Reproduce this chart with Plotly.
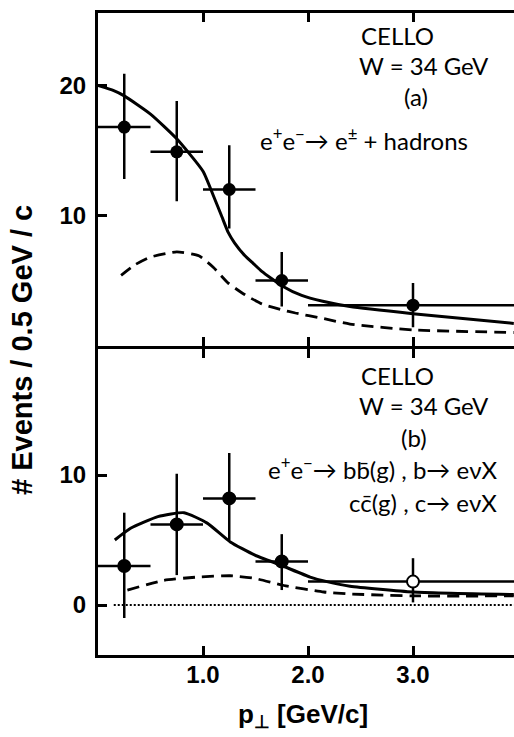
import plotly.graph_objects as go

# ---- data ----
bin_centers = [0.25, 0.75, 1.25, 1.75, 3.0]
bin_lo = [0.0, 0.5, 1.0, 1.5, 2.0]
bin_hi = [0.5, 1.0, 1.5, 2.0, 4.0]

top_y = [16.8, 14.9, 12.0, 5.0, 3.1]
top_err_up = [4.1, 3.9, 3.4, 2.2, 1.7]
top_err_dn = [4.0, 3.8, 3.0, 2.0, 1.7]

bot_y = [3.0, 6.2, 8.2, 3.35, 1.8]
bot_err_up = [4.1, 3.9, 3.5, 2.1, 1.8]
bot_err_dn = [4.0, 3.9, 3.2, 2.2, 1.6]
bot_filled = [True, True, True, True, False]

top_solid_x = [0.0, 0.15, 0.25, 0.5, 0.75, 1.0, 1.1, 1.18, 1.24, 1.3, 1.4, 1.48, 1.56, 1.75, 1.94, 2.14, 2.4, 3.0, 3.5, 3.96]
top_solid_y = [20.0, 19.6, 19.2, 17.8, 15.9, 13.4, 11.5, 9.9, 8.7, 7.9, 6.9, 6.3, 5.7, 4.6, 3.85, 3.4, 3.0, 2.45, 2.05, 1.7]

top_dash_x = [0.22, 0.35, 0.5, 0.75, 0.96, 1.1, 1.24, 1.4, 1.56, 1.75, 1.88, 2.13, 2.4, 3.0, 3.96]
top_dash_y = [5.4, 6.2, 6.8, 7.2, 6.9, 6.0, 4.8, 3.9, 3.2, 2.75, 2.5, 2.1, 1.65, 1.2, 1.0]

bot_solid_x = [0.16, 0.31, 0.57, 0.82, 1.04, 1.26, 1.49, 1.76, 2.02, 2.18, 2.4, 3.0, 3.96]
bot_solid_y = [5.0, 5.9, 6.8, 7.1, 6.3, 4.85, 3.85, 3.0, 2.15, 1.8, 1.45, 1.0, 0.8]

bot_dash_x = [0.28, 0.63, 0.95, 1.26, 1.49, 1.77, 2.15, 2.4, 3.0, 3.96]
bot_dash_y = [1.15, 1.9, 2.15, 2.25, 2.05, 1.5, 1.0, 0.85, 0.7, 0.7]

zero_x = [0.15, 3.96]
zero_y = [0.0, 0.0]

x_ticks = [1.0, 2.0, 3.0]
x_ticklabels = ["1.0", "2.0", "3.0"]
top_yticks = [10, 20]
bot_yticks = [0, 10]

# ---- figure ----
fig = go.Figure()

err_x_plus = [h - c for h, c in zip(bin_hi, bin_centers)]
err_x_minus = [c - l for l, c in zip(bin_lo, bin_centers)]

fig.add_trace(go.Scatter(x=top_solid_x, y=top_solid_y, mode="lines",
                         line=dict(color="black", width=3, shape="spline", smoothing=0.5),
                         xaxis="x", yaxis="y"))
fig.add_trace(go.Scatter(x=top_dash_x, y=top_dash_y, mode="lines",
                         line=dict(color="black", width=2.8, dash="12px,7px", shape="spline", smoothing=0.5),
                         xaxis="x", yaxis="y"))
fig.add_trace(go.Scatter(
    x=bin_centers, y=top_y, mode="markers",
    marker=dict(color="black", size=13, line=dict(color="black", width=0)),
    error_x=dict(type="data", symmetric=False, array=err_x_plus, arrayminus=err_x_minus,
                 color="black", thickness=2.5, width=0),
    error_y=dict(type="data", symmetric=False, array=top_err_up, arrayminus=top_err_dn,
                 color="black", thickness=2.5, width=0),
    xaxis="x", yaxis="y"))

fig.add_trace(go.Scatter(x=zero_x, y=zero_y, mode="lines",
                         line=dict(color="black", width=2, dash="2px,2px"), xaxis="x2", yaxis="y2"))
fig.add_trace(go.Scatter(x=bot_solid_x, y=bot_solid_y, mode="lines",
                         line=dict(color="black", width=3, shape="spline", smoothing=0.5),
                         xaxis="x2", yaxis="y2"))
fig.add_trace(go.Scatter(x=bot_dash_x, y=bot_dash_y, mode="lines",
                         line=dict(color="black", width=2.8, dash="12px,7px", shape="spline", smoothing=0.5),
                         xaxis="x2", yaxis="y2"))
fig.add_trace(go.Scatter(
    x=bin_centers, y=bot_y, mode="markers",
    marker=dict(color=["black" if f else "white" for f in bot_filled], size=12,
                line=dict(color="black", width=2)),
    error_x=dict(type="data", symmetric=False, array=err_x_plus, arrayminus=err_x_minus,
                 color="black", thickness=2.5, width=0),
    error_y=dict(type="data", symmetric=False, array=bot_err_up, arrayminus=bot_err_dn,
                 color="black", thickness=2.5, width=0),
    xaxis="x2", yaxis="y2"))

tickfont = dict(family="Liberation Sans", size=24, color="black", weight="bold")
PX_PER_X = 105.0
xr = [0.0, 416 / PX_PER_X]
common_x = dict(range=xr, showgrid=False, zeroline=False, showline=True, linecolor="black",
                linewidth=3, mirror="ticks", ticks="inside", ticklen=9, tickwidth=2.5,
                tickcolor="black", tickvals=x_ticks, ticktext=x_ticklabels, tickfont=tickfont)
common_y = dict(showgrid=False, zeroline=False, showline=True, linecolor="black", linewidth=3,
                mirror=False, ticks="inside", ticklen=9, tickwidth=2.5, tickcolor="black",
                tickfont=tickfont, ticklabelstandoff=4)

# plot area: top 13 px, bottom 655 px
T, B = 13.0, 655.0
H = B - T
top_dom_lo = (B - 345.5) / H
bot_dom_hi = (B - 348.5) / H
fig.update_layout(
    width=514, height=737,
    margin=dict(l=98, r=0, t=int(T), b=int(737 - B)),
    paper_bgcolor="white", plot_bgcolor="white",
    showlegend=False,
    xaxis=dict(common_x, anchor="y", showticklabels=False),
    yaxis=dict(common_y, domain=[top_dom_lo, 1.0], range=[0, (345.5 - T) / 13], tickvals=top_yticks,
               anchor="x"),
    xaxis2=dict(common_x, anchor="y2", showticklabels=True, ticklabelstandoff=-4),
    yaxis2=dict(common_y, domain=[0.0, bot_dom_hi], range=[-(B - 605) / 13, (605 - 348.5) / 13],
                tickvals=bot_yticks, anchor="x2"),
)

afont = dict(family="Lato", size=24, color="black")
ann = [
    dict(text="CELLO", x=2.853, y=23.85, xref="x", yref="y"),
    dict(text="W = 34 GeV", x=3.109, y=21.54, xref="x", yref="y"),
    dict(text="(a)", x=3.033, y=19.15, xref="x", yref="y"),
    dict(text="e<sup>+</sup>e<sup>−</sup>→ e<sup>±</sup> + hadrons", x=2.536, y=15.92, xref="x", yref="y"),
    dict(text="CELLO", x=2.853, y=17.69, xref="x2", yref="y2"),
    dict(text="W = 34 GeV", x=3.109, y=15.38, xref="x2", yref="y2"),
    dict(text="(b)", x=3.014, y=12.92, xref="x2", yref="y2"),
    dict(text="e<sup>+</sup>e<sup>−</sup>→ bb\u0304(g) , b→ eνX", x=3.82, y=10.54, xref="x2", yref="y2", xanchor="right"),
    dict(text="cc\u0304(g) , c→ eνX", x=3.82, y=7.85, xref="x2", yref="y2", xanchor="right"),
]
for a in ann:
    a.setdefault("xanchor", "center")
    fig.add_annotation(showarrow=False, yanchor="middle", font=afont, **a)

fig.add_annotation(text="# Events / 0.5 GeV / c", textangle=-90, showarrow=False,
                   xref="paper", yref="paper", x=(22 - 98) / 416, y=(B - 350) / H,
                   xanchor="center", yanchor="middle",
                   font=dict(family="Liberation Sans", size=29, color="black", weight="bold"))
fig.add_annotation(text="p<sub>⊥</sub> [GeV/c]", showarrow=False,
                   xref="paper", yref="paper", x=(303 - 98) / 416, y=(B - 715) / H,
                   xanchor="center", yanchor="middle",
                   font=dict(family="Liberation Sans", size=26, color="black", weight="bold"))

fig.write_html("out.html")
